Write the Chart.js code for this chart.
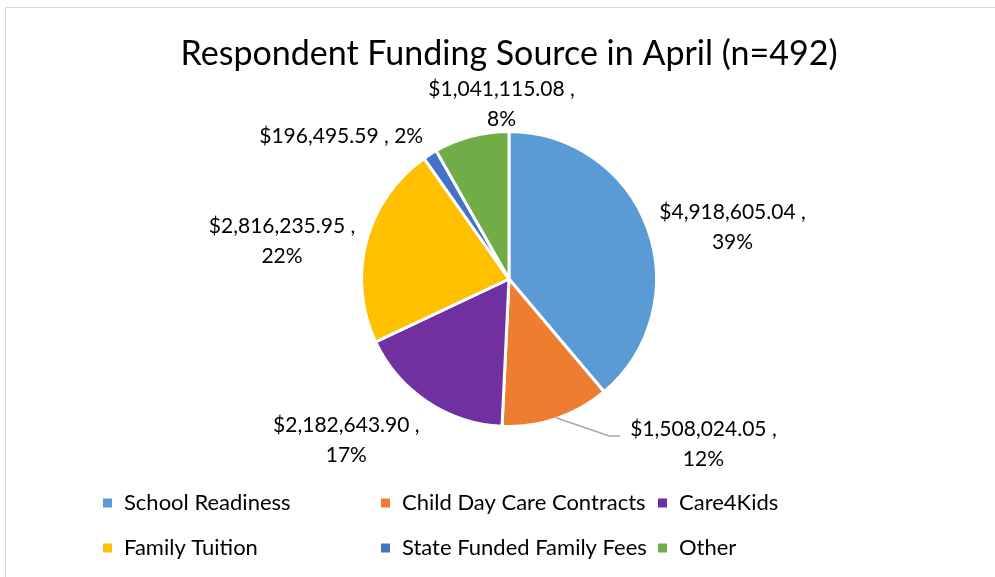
<!DOCTYPE html>
<html>
<head>
<meta charset="utf-8">
<script src="https://cdn.jsdelivr.net/npm/chart.js@4.4.1/dist/chart.umd.min.js"></script>
<style>
  html, body { margin: 0; padding: 0; background: #fff; }
  #wrap { width: 995px; height: 577px; position: relative; }
</style>
</head>
<body>
<div id="wrap"><canvas id="pieChart"></canvas></div>
<script>
// data
const categories = ["School Readiness", "Child Day Care Contracts", "Care4Kids", "Family Tuition", "State Funded Family Fees", "Other"];
const amounts = [4918605.04, 1508024.05, 2182643.90, 2816235.95, 196495.59, 1041115.08];
const chartTitle = "Respondent Funding Source in April (n=492)";

// styles
const sliceColors = ["#5B9BD5", "#ED7D31", "#7030A0", "#FFC000", "#4472C4", "#70AD47"];
const FONT = "Lato, 'Open Sans', sans-serif";

// label placement: nudge from a point just outside each slice's middle
const labelNudge = [[38, 16], [131, -22], [-53, -3], [-36, 13], [-62, 24], [43, 16]];
const singleLine = [false, false, false, false, true, false];
const leaderLine = [false, true, false, false, false, false];

const total = amounts.reduce((a, b) => a + b, 0);

function money(v) {
    return "$" + v.toLocaleString("en-US", { minimumFractionDigits: 2, maximumFractionDigits: 2 });
}

const extrasPlugin = {
    id: "extras",
    beforeDraw(chart) {
        const ctx = chart.ctx;
        ctx.save();
        ctx.fillStyle = "#fff";
        ctx.fillRect(0, 0, chart.width, chart.height);
        // outer frame
        ctx.strokeStyle = "#D9D9D9";
        ctx.lineWidth = 1;
        ctx.strokeRect(5.5, 7.5, chart.width + 10, chart.height + 10);
        ctx.restore();
    },
    afterDatasetsDraw(chart) {
        const ctx = chart.ctx;
        const meta = chart.getDatasetMeta(0);
        ctx.save();
        ctx.font = "21px " + FONT;
        ctx.fillStyle = "#000";
        ctx.textAlign = "center";
        ctx.textBaseline = "middle";
        const lineH = 30;
        meta.data.forEach((arc, i) => {
            const p = arc.getProps(["x", "y", "startAngle", "endAngle", "outerRadius"], true);
            const mid = (p.startAngle + p.endAngle) / 2;
            const ax = p.x + Math.cos(mid) * (p.outerRadius + 50) + labelNudge[i][0];
            const ay = p.y + Math.sin(mid) * (p.outerRadius + 50) + labelNudge[i][1];
            const pct = Math.round(amounts[i] / total * 100) + "%";
            if (singleLine[i]) {
                ctx.fillText(money(amounts[i]) + " , " + pct, ax, ay);
            } else {
                const first = money(amounts[i]) + " ,";
                ctx.fillText(first, ax, ay - lineH / 2);
                ctx.fillText(pct, ax, ay + lineH / 2);
                if (leaderLine[i]) {
                    const w = ctx.measureText(first).width;
                    const left = ax - w / 2;
                    const ey = ay - lineH / 2 + 7;
                    ctx.strokeStyle = "#A6A6A6";
                    ctx.lineWidth = 1.5;
                    ctx.beginPath();
                    ctx.moveTo(p.x + Math.cos(mid) * (p.outerRadius - 1), p.y + Math.sin(mid) * (p.outerRadius - 1));
                    ctx.lineTo(left - 21, ey);
                    ctx.lineTo(left - 10, ey);
                    ctx.stroke();
                }
            }
        });
        ctx.restore();
    },
    afterDraw(chart) {
        const ctx = chart.ctx;
        ctx.save();
        // title
        ctx.font = "34px " + FONT;
        ctx.fillStyle = "#000";
        ctx.textAlign = "center";
        ctx.textBaseline = "middle";
        ctx.fillText(chartTitle, 509, 54);

        // legend, 3 columns x 2 rows
        const ds = chart.data.datasets[0];
        ctx.font = "22px " + FONT;
        ctx.textAlign = "left";
        const colX = [103, 381, 658];
        const rowY = [503, 548];
        chart.data.labels.forEach((lab, i) => {
            const cx = colX[i % 3];
            const cy = rowY[Math.floor(i / 3)];
            ctx.fillStyle = ds.backgroundColor[i];
            ctx.fillRect(cx, cy - 4.5, 9, 9);
            ctx.fillStyle = "#000";
            ctx.fillText(lab, cx + 21, cy);
        });
        ctx.restore();
    }
};

new Chart(document.getElementById("pieChart"), {
    type: "pie",
    data: {
        labels: categories,
        datasets: [{
            data: amounts,
            backgroundColor: sliceColors,
            borderColor: "#fff",
            borderWidth: 3
        }]
    },
    options: {
        responsive: true,
        maintainAspectRatio: false,
        animation: false,
        events: [],
        layout: { padding: { left: 360, right: 337, top: 130, bottom: 149 } },
        plugins: {
            legend: { display: false },
            title: { display: false },
            tooltip: { enabled: false }
        }
    },
    plugins: [extrasPlugin]
});
</script>
</body>
</html>
